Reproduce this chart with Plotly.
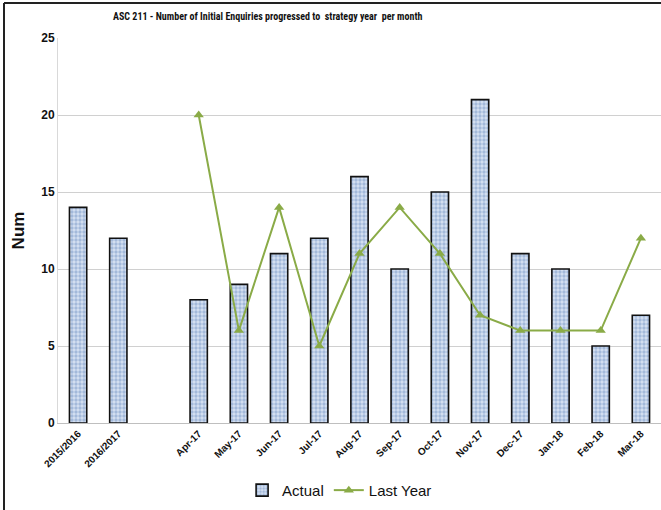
import plotly.graph_objects as go

categories = ["2015/2016", "2016/2017", " ", "Apr-17", "May-17", "Jun-17", "Jul-17",
              "Aug-17", "Sep-17", "Oct-17", "Nov-17", "Dec-17", "Jan-18", "Feb-18", "Mar-18"]
actual = [14, 12, None, 8, 9, 11, 12, 16, 10, 15, 21, 11, 10, 5, 7]
last_year = [None, None, None, 20, 6, 14, 5, 11, 14, 11, 7, 6, 6, 6, 12]

title_text = "ASC 211 - Number of Initial Enquiries progressed to  strategy year  per month"
y_ticks = [0, 5, 10, 15, 20, 25]

fig = go.Figure()

fig.add_trace(go.Bar(
    x=categories, y=actual, name="Actual",
    width=0.43,
    marker=dict(
        color="#d6e2f2",
        line=dict(color="#111111", width=1.6),
        pattern=dict(shape=".", fgcolor="#6f8fc2", bgcolor="#d6e2f2", size=4, solidity=0.55),
    ),
))

fig.add_trace(go.Scatter(
    x=categories, y=last_year, name="Last Year",
    mode="lines+markers",
    line=dict(color="#8aab47", width=2),
    marker=dict(symbol="triangle-up", size=9, color="#8aab47"),
    connectgaps=False,
))

fig.update_layout(
    width=661, height=510,
    margin=dict(l=58, r=0, t=38, b=87, autoexpand=False),
    paper_bgcolor="white", plot_bgcolor="white",
    font=dict(family="Liberation Sans, Arial, sans-serif", color="#111111"),
    title=dict(
        text=f"<b>{title_text}</b>",
        font=dict(family="Liberation Sans Narrow, Roboto Condensed, Liberation Sans, Arial", size=10, color="#111111"),
        x=0.405, xanchor="center", y=0.967, yanchor="middle",
    ),
    showlegend=True,
    legend=dict(
        orientation="h", x=0.467, xanchor="center", y=-0.175, yanchor="middle",
        font=dict(size=15, family="Liberation Sans, Arial"),
        itemwidth=30, traceorder="normal",
    ),
    xaxis=dict(
        type="category", categoryorder="array", categoryarray=categories,
        range=[-0.5, len(categories) - 0.5],
        tickvals=categories, ticktext=[f"<b>{c}</b>" for c in categories],
        tickangle=-45,
        tickfont=dict(size=10, family="Liberation Sans, Arial", color="#111111"),
        showline=True, linecolor="#bfbfbf", linewidth=1,
        showgrid=False, ticks="",
    ),
    yaxis=dict(
        range=[0, 25],
        tickvals=y_ticks, ticktext=[f"<b>{v}</b>" for v in y_ticks],
        tickfont=dict(size=12, family="Liberation Sans, Arial", color="#111111"),
        showgrid=True, gridcolor="#d0d0d0", gridwidth=1,
        showline=True, linecolor="#d9d9d9", linewidth=1,
        zeroline=False, ticks="",
        title=dict(text="<b>Num</b>", font=dict(size=17, family="Liberation Sans, Arial"), standoff=12),
    ),
)

# outer frame lines (left and top)
fx = (4 - 58) / 603
fy = (423 - 3) / 385
fig.add_shape(type="line", xref="paper", yref="paper",
              x0=fx, x1=fx, y0=(423 - 512) / 385, y1=fy,
              line=dict(color="#222222", width=2))
fig.add_shape(type="line", xref="paper", yref="paper",
              x0=fx, x1=1.1, y0=fy, y1=fy,
              line=dict(color="#222222", width=2))

fig.write_html("out.html")
